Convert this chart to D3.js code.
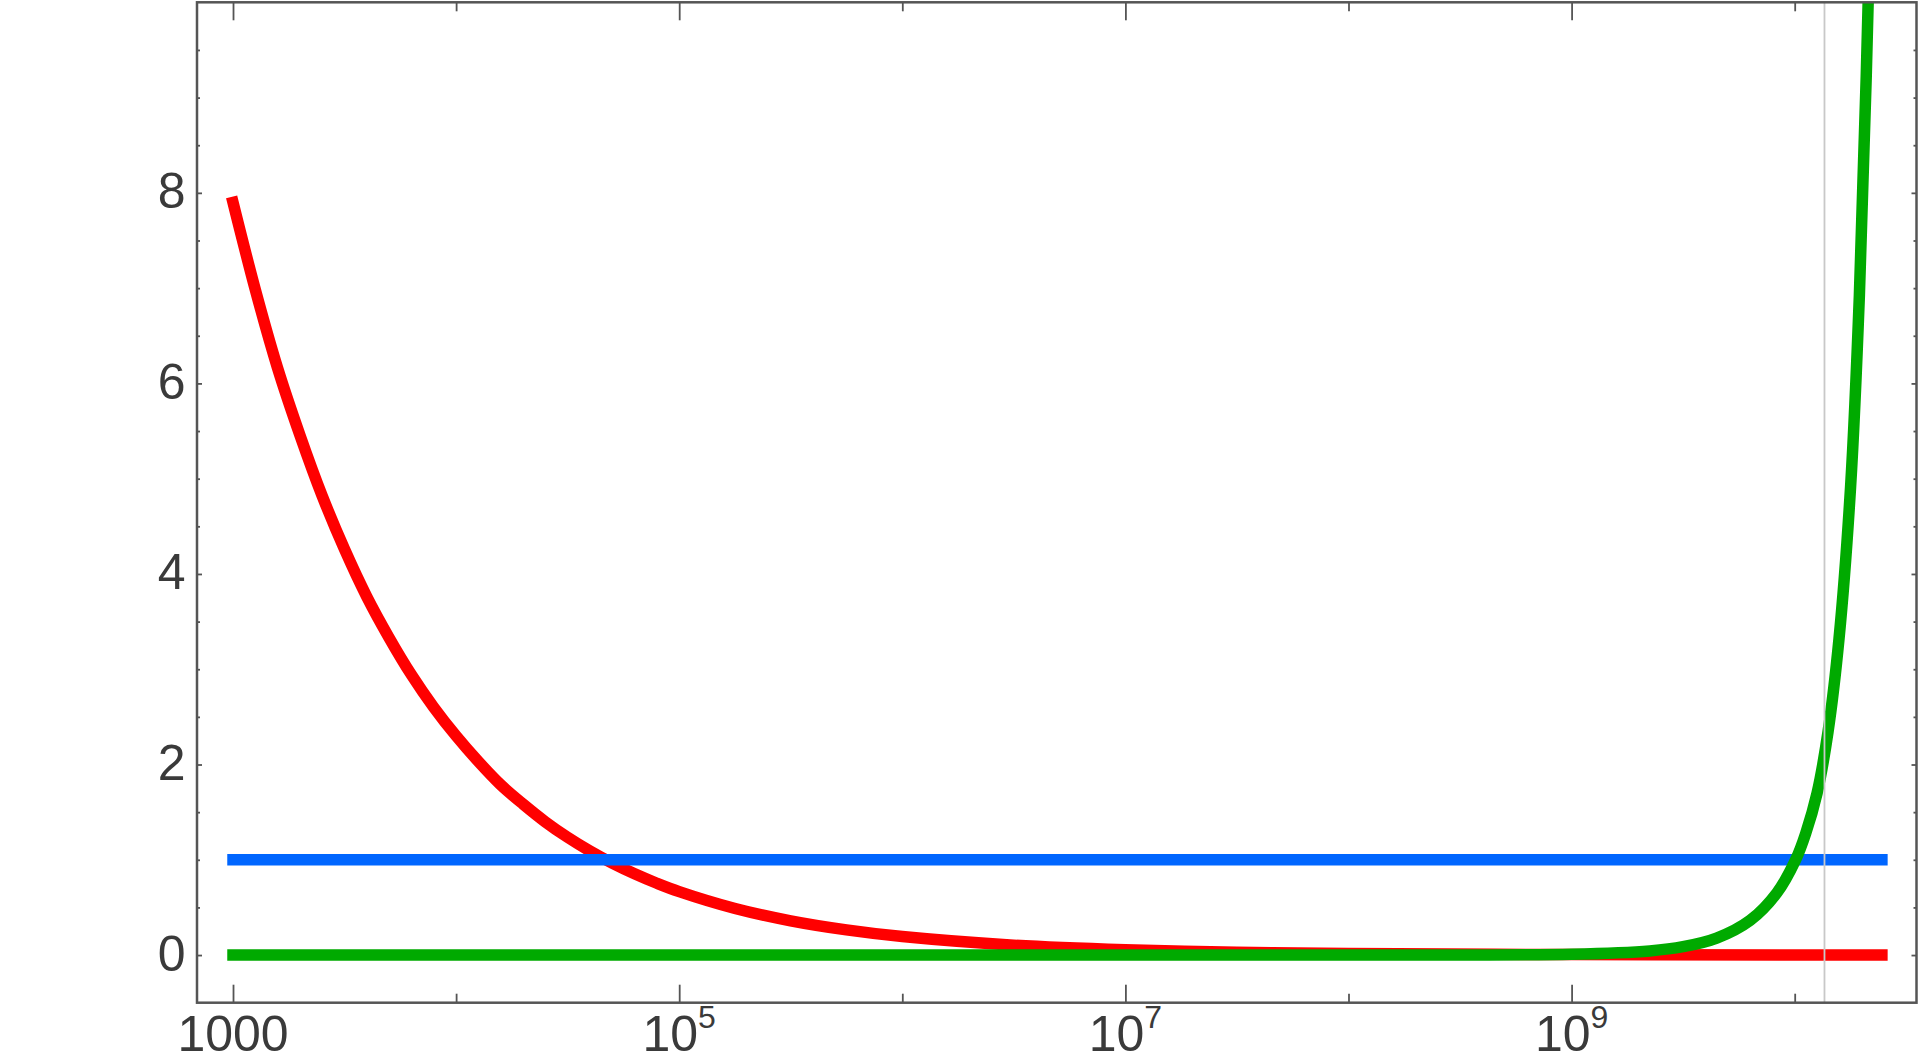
<!DOCTYPE html>
<html><head><meta charset="utf-8">
<script src="https://cdn.jsdelivr.net/npm/d3@7"></script>
<style>html,body{margin:0;padding:0;background:#fff;overflow:hidden}</style>
</head><body>
<svg id="c" width="1920" height="1060"></svg>
<script>
// ---- data (time in years, ratio values) ----
const redYears  = [1e3, 1.26e3, 1.58e3, 2.0e3, 2.51e3, 3.16e3, 3.98e3, 5.01e3, 6.31e3, 7.94e3, 1e4, 1.26e4, 1.58e4, 2.0e4, 2.51e4, 3.16e4, 3.98e4, 5.01e4, 6.31e4, 7.94e4, 1e5, 1.78e5, 3.16e5, 5.62e5, 1e6, 3.16e6, 1e7, 3.16e7, 1e8, 1e9, 1e10, 2.46e10];
const redValues = [7.9, 6.98, 6.17, 5.45, 4.82, 4.26, 3.76, 3.33, 2.94, 2.60, 2.30, 2.03, 1.79, 1.583, 1.399, 1.236, 1.092, 0.965, 0.853, 0.754, 0.666, 0.489, 0.359, 0.264, 0.194, 0.104, 0.056, 0.030, 0.016, 0.0047, 0.0014, 0.001];

const blueYears  = [1e3, 2.46e10];
const blueValues = [1, 1];

const greenYears  = [1e3, 1e8, 3.16e8, 1e9, 2.24e9, 3.16e9, 4.47e9, 6.31e9, 8.32e9, 1.01e10, 1.12e10, 1.26e10, 1.41e10, 1.58e10, 1.78e10, 1.95e10, 2.14e10, 2.29e10, 2.45e10];
const greenValues = [0, 0.0001, 0.0009, 0.0087, 0.0436, 0.0875, 0.178, 0.364, 0.653, 1.0, 1.276, 1.70, 2.34, 3.32, 4.91, 6.93, 10.1, 13.5, 18];

const markerYear = 1.36e10;

const xMajorTicks = [1e3, 1e5, 1e7, 1e9];
const xMinorTicks = [1e4, 1e6, 1e8, 1e10];
const xTickBase = ["1000", "10", "10", "10"];
const xTickExp  = ["", "5", "7", "9"];
const yMajorTicks = [0, 2, 4, 6, 8];
const yMinorTicks = [0.5,1,1.5,2.5,3,3.5,4.5,5,5.5,6.5,7,7.5,8.5,9,9.5];
const yTickLabels = ["0", "2", "4", "6", "8"];

// ---- layout ----
const L = 197, R = 1916.5, T = 2.3, B = 1002.7;
const svg = d3.select("#c");
const x = d3.scaleLog().domain([10 ** 2.8386, 10 ** 10.546]).range([L, R]);
const y = d3.scaleLinear().domain([-0.5, 10]).range([B, T]);

svg.append("defs").append("clipPath").attr("id", "clip")
  .append("rect").attr("x", L).attr("y", T).attr("width", R - L).attr("height", B - T);

const plot = svg.append("g").attr("clip-path", "url(#clip)");
const line = d3.line().x(d => x(d[0])).y(d => y(d[1])).curve(d3.curveCatmullRom.alpha(0.5));

function series(years, vals, color) {
  plot.append("path")
    .datum(years.map((t, i) => [t, vals[i]]))
    .attr("d", line)
    .attr("fill", "none")
    .attr("stroke", color)
    .attr("stroke-width", 11.5)
    .attr("stroke-linecap", "square")
    .attr("stroke-linejoin", "round");
}
series(redYears, redValues, "#ff0000");
series(blueYears, blueValues, "#0066ff");
series(greenYears, greenValues, "#00aa00");

// vertical marker line
plot.append("line")
  .attr("x1", x(markerYear)).attr("x2", x(markerYear))
  .attr("y1", T).attr("y2", B)
  .attr("stroke", "#c8c8c8").attr("stroke-width", 1.8);

// ---- ticks via d3 axes ----
const tickColor = "#555555";
function styleAxis(g) {
  g.select(".domain").remove();
  g.selectAll("line").attr("stroke", tickColor).attr("stroke-width", 1.8);
  g.selectAll("text").remove();
}
svg.append("g").attr("transform", `translate(0,${B})`)
  .call(d3.axisBottom(x).tickValues(xMajorTicks).tickSize(-18).tickFormat("")).call(styleAxis);
svg.append("g").attr("transform", `translate(0,${B})`)
  .call(d3.axisBottom(x).tickValues(xMinorTicks).tickSize(-9).tickFormat("")).call(styleAxis);
svg.append("g").attr("transform", `translate(0,${T})`)
  .call(d3.axisTop(x).tickValues(xMajorTicks).tickSize(-18).tickFormat("")).call(styleAxis);
svg.append("g").attr("transform", `translate(0,${T})`)
  .call(d3.axisTop(x).tickValues(xMinorTicks).tickSize(-9).tickFormat("")).call(styleAxis);
svg.append("g").attr("transform", `translate(${L},0)`)
  .call(d3.axisLeft(y).tickValues(yMajorTicks).tickSize(-5).tickFormat("")).call(styleAxis);
svg.append("g").attr("transform", `translate(${L},0)`)
  .call(d3.axisLeft(y).tickValues(yMinorTicks).tickSize(-3).tickFormat("")).call(styleAxis);
svg.append("g").attr("transform", `translate(${R},0)`)
  .call(d3.axisRight(y).tickValues(yMajorTicks).tickSize(-5).tickFormat("")).call(styleAxis);
svg.append("g").attr("transform", `translate(${R},0)`)
  .call(d3.axisRight(y).tickValues(yMinorTicks).tickSize(-3).tickFormat("")).call(styleAxis);

// ---- tick labels ----
const font = "'Liberation Sans', Arial, sans-serif";
const textColor = "#3a3a3a";
xMajorTicks.forEach((v, i) => {
  const t = svg.append("text")
    .attr("x", x(v)).attr("y", 1050.5)
    .attr("text-anchor", "middle")
    .attr("font-family", font).attr("font-size", 50).attr("fill", textColor);
  t.append("tspan").text(xTickBase[i]);
  if (xTickExp[i]) t.append("tspan").attr("font-size", 32).attr("dy", -23).text(xTickExp[i]);
});
yMajorTicks.forEach((v, i) => {
  svg.append("text")
    .attr("x", 185.5).attr("y", y(v) + 15.5)
    .attr("text-anchor", "end")
    .attr("font-family", font).attr("font-size", 50).attr("fill", textColor)
    .text(yTickLabels[i]);
});

// ---- frame ----
svg.append("rect").attr("x", L).attr("y", T).attr("width", R - L).attr("height", B - T)
  .attr("fill", "none").attr("stroke", "#555555").attr("stroke-width", 2.5);
</script>
</body></html>
